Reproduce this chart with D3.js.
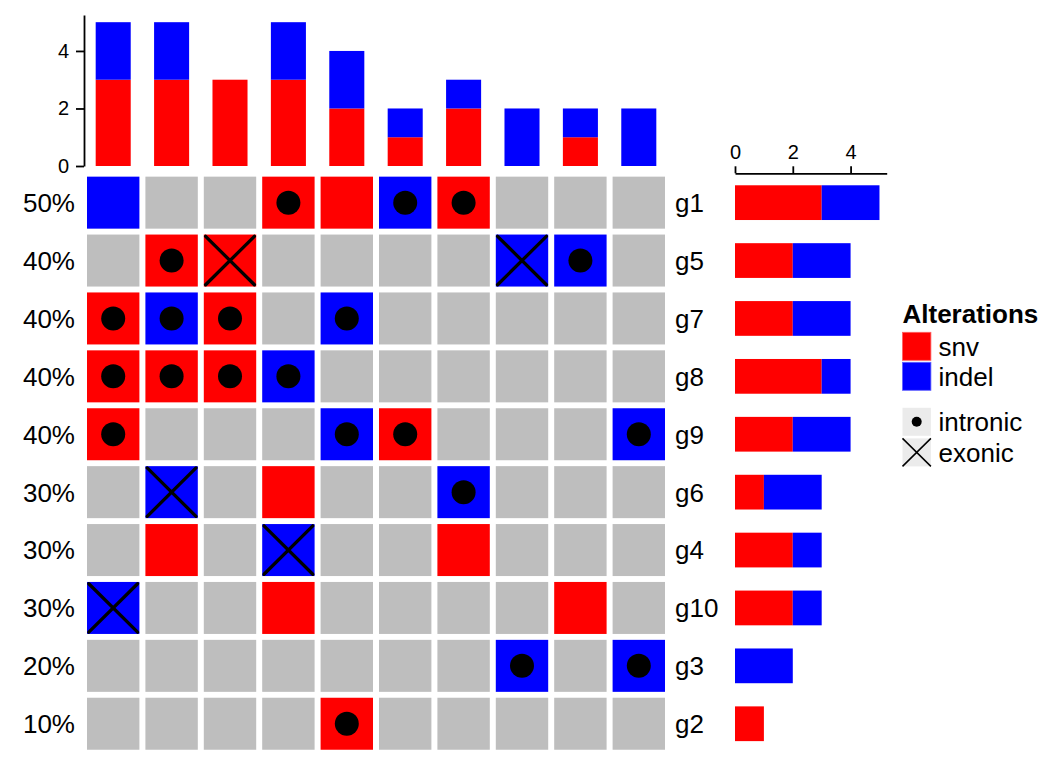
<!DOCTYPE html>
<html><head><meta charset="utf-8">
<script src="https://cdn.jsdelivr.net/npm/d3@7"></script>
<style>
body{margin:0;background:#fff}
svg{display:block}
text{font-family:"Liberation Sans",Arial,Helvetica,sans-serif;fill:#000}
</style>
</head><body>
<svg id="chart" width="1056" height="768"></svg>
<script>
// ---- data ----
const genes = ["g1","g5","g7","g8","g9","g6","g4","g10","g3","g2"];
const samples = ["S1","S2","S3","S4","S5","S6","S7","S8","S9","S10"];
const alterationKeys = ["snv","indel"];
const effectKeys = ["intronic","exonic"];
// alteration type per gene row (same order as genes), per sample column
const typeRows = [
  ["indel","","","snv","snv","indel","snv","","",""],      // g1
  ["","snv","snv","","","","","indel","indel",""],          // g5
  ["snv","indel","snv","","indel","","","","",""],          // g7
  ["snv","snv","snv","indel","","","","","",""],            // g8
  ["snv","","","","indel","snv","","","","indel"],          // g9
  ["","indel","","snv","","","indel","","",""],             // g6
  ["","snv","","indel","","","snv","","",""],               // g4
  ["indel","","","snv","","","","","snv",""],               // g10
  ["","","","","","","","indel","","indel"],                // g3
  ["","","","","snv","","","","",""]                        // g2
];
const effectRows = [
  ["","","","intronic","","intronic","intronic","","",""],
  ["","intronic","exonic","","","","","exonic","intronic",""],
  ["intronic","intronic","intronic","","intronic","","","","",""],
  ["intronic","intronic","intronic","intronic","","","","","",""],
  ["intronic","","","","intronic","intronic","","","","intronic"],
  ["","exonic","","","","","intronic","","",""],
  ["","","","exonic","","","","","",""],
  ["exonic","","","","","","","","",""],
  ["","","","","","","","intronic","","intronic"],
  ["","","","","intronic","","","","",""]
];
const countTicks = [0,2,4];

// ---- styles ----
const colors = {snv:"#FF0000", indel:"#0000FF", none:"#BEBEBE"};
const svg = d3.select("#chart");

// ---- scales ----
const x = d3.scaleBand().domain(samples).range([84,668]).paddingInner(0.1027).paddingOuter(0.0514);
const y = d3.scaleBand().domain(genes).range([173.7,752.7]).paddingInner(0.1019).paddingOuter(0.051);
const yTop = d3.scaleLinear().domain([0,5.25]).range([166,15]);
const xRight = d3.scaleLinear().domain([0,5.25]).range([735,886.7]);

// ---- cell data ----
const cells = [];
genes.forEach((g,i)=>samples.forEach((s,j)=>{
  cells.push({gene:g, sample:s, type:typeRows[i][j], effect:effectRows[i][j]});
}));

// ---- grid ----
const gGrid = svg.append("g");
gGrid.selectAll("rect").data(cells).join("rect")
  .attr("x",d=>x(d.sample)).attr("y",d=>y(d.gene))
  .attr("width",x.bandwidth()).attr("height",y.bandwidth())
  .attr("fill",d=>d.type?colors[d.type]:colors.none);

gGrid.selectAll("circle").data(cells.filter(d=>d.effect==="intronic")).join("circle")
  .attr("cx",d=>x(d.sample)+x.bandwidth()/2).attr("cy",d=>y(d.gene)+y.bandwidth()/2)
  .attr("r",12).attr("fill","#000");

const ex = cells.filter(d=>d.effect==="exonic");
const inset = 1.8;
gGrid.selectAll("path.cross").data(ex).join("path").attr("class","cross")
  .attr("d",d=>{
    const x0=x(d.sample)+inset, x1=x(d.sample)+x.bandwidth()-inset;
    const y0=y(d.gene)+inset, y1=y(d.gene)+y.bandwidth()-inset;
    return `M${x0},${y0}L${x1},${y1}M${x1},${y0}L${x0},${y1}`;
  })
  .attr("stroke","#000").attr("stroke-width",3.3).attr("stroke-linecap","round").attr("fill","none");

// ---- percent labels (left) ----
const geneCounts = genes.map((g,i)=>typeRows[i].filter(t=>t).length);
svg.append("g").selectAll("text").data(genes).join("text")
  .attr("x",75).attr("y",g=>y(g)+y.bandwidth()/2).attr("dy","0.36em")
  .attr("text-anchor","end").attr("font-size",26)
  .text((g,i)=>Math.round(geneCounts[i]/samples.length*100)+"%");

// ---- gene labels (right) ----
svg.append("g").selectAll("text").data(genes).join("text")
  .attr("x",675).attr("y",g=>y(g)+y.bandwidth()/2).attr("dy","0.36em")
  .attr("text-anchor","start").attr("font-size",26)
  .text(g=>g);

// ---- top bar chart (per sample) ----
const colCounts = samples.map((s,j)=>{
  const o={sample:s};
  alterationKeys.forEach(k=>o[k]=typeRows.filter(r=>r[j]===k).length);
  return o;
});
const topStack = d3.stack().keys(alterationKeys)(colCounts);
const topBarW = x.step()*0.6;
svg.append("g").selectAll("g").data(topStack).join("g")
  .attr("fill",d=>colors[d.key])
  .selectAll("rect").data(d=>d).join("rect")
  .attr("x",d=>x(d.data.sample)+x.bandwidth()/2-topBarW/2)
  .attr("width",topBarW)
  .attr("y",d=>yTop(d[1])).attr("height",d=>yTop(d[0])-yTop(d[1]));

const axTop = svg.append("g").attr("transform","translate(84,0)")
  .call(d3.axisLeft(yTop).tickValues(countTicks).tickFormat(d3.format("d")).tickSize(8).tickSizeOuter(0).tickPadding(7));
axTop.select(".domain").attr("stroke","#000").attr("stroke-width",1.8);
axTop.selectAll(".tick line").attr("stroke","#000").attr("stroke-width",1.8);
axTop.selectAll(".tick text").attr("font-size",20).attr("fill","#000").attr("font-family",null);

// ---- right bar chart (per gene) ----
const rowCounts = genes.map((g,i)=>{
  const o={gene:g};
  alterationKeys.forEach(k=>o[k]=typeRows[i].filter(t=>t===k).length);
  return o;
});
const rightStack = d3.stack().keys(alterationKeys)(rowCounts);
const rightBarH = y.step()*0.6;
svg.append("g").selectAll("g").data(rightStack).join("g")
  .attr("fill",d=>colors[d.key])
  .selectAll("rect").data(d=>d).join("rect")
  .attr("y",d=>y(d.data.gene)+y.bandwidth()/2-rightBarH/2)
  .attr("height",rightBarH)
  .attr("x",d=>xRight(d[0])).attr("width",d=>xRight(d[1])-xRight(d[0]));

const axRight = svg.append("g").attr("transform","translate(0,173.3)")
  .call(d3.axisTop(xRight).tickValues(countTicks).tickFormat(d3.format("d")).tickSize(7).tickSizeOuter(0).tickPadding(7));
axRight.select(".domain").attr("stroke","#000").attr("stroke-width",1.8);
axRight.selectAll(".tick line").attr("stroke","#000").attr("stroke-width",1.8);
axRight.selectAll(".tick text").attr("font-size",20).attr("fill","#000").attr("font-family",null);

// ---- legend ----
const lg = svg.append("g").attr("transform","translate(902.5,0)");
lg.append("text").attr("x",0).attr("y",323).attr("font-size",26).attr("font-weight","bold").text("Alterations");
const keyW = 28.4, keyH = 28;
const altKeyY = [332.3, 362.3];
alterationKeys.forEach((k,i)=>{
  lg.append("rect").attr("x",0).attr("y",altKeyY[i]).attr("width",keyW).attr("height",keyH)
    .attr("fill",colors[k]).attr("stroke",k==="snv"?"#ff6060":"#6060ff").attr("stroke-width",0.8);
  lg.append("text").attr("x",36).attr("y",altKeyY[i]+keyH/2).attr("dy","0.36em").attr("font-size",26).text(k);
});
const effKeyY = [407.8, 438.4];
effectKeys.forEach((k,i)=>{
  const y0 = effKeyY[i];
  lg.append("rect").attr("x",0).attr("y",y0).attr("width",keyW).attr("height",keyH).attr("fill","#EBEBEB");
  if(k==="intronic"){
    lg.append("circle").attr("cx",keyW/2).attr("cy",y0+keyH/2).attr("r",5).attr("fill","#000");
  } else {
    lg.append("path").attr("d",`M0,${y0}L${keyW},${y0+keyH}M${keyW},${y0}L0,${y0+keyH}`)
      .attr("stroke","#000").attr("stroke-width",1.5).attr("fill","none");
  }
  lg.append("text").attr("x",36).attr("y",y0+keyH/2).attr("dy","0.36em").attr("font-size",26).text(k);
});
</script>
</body></html>
